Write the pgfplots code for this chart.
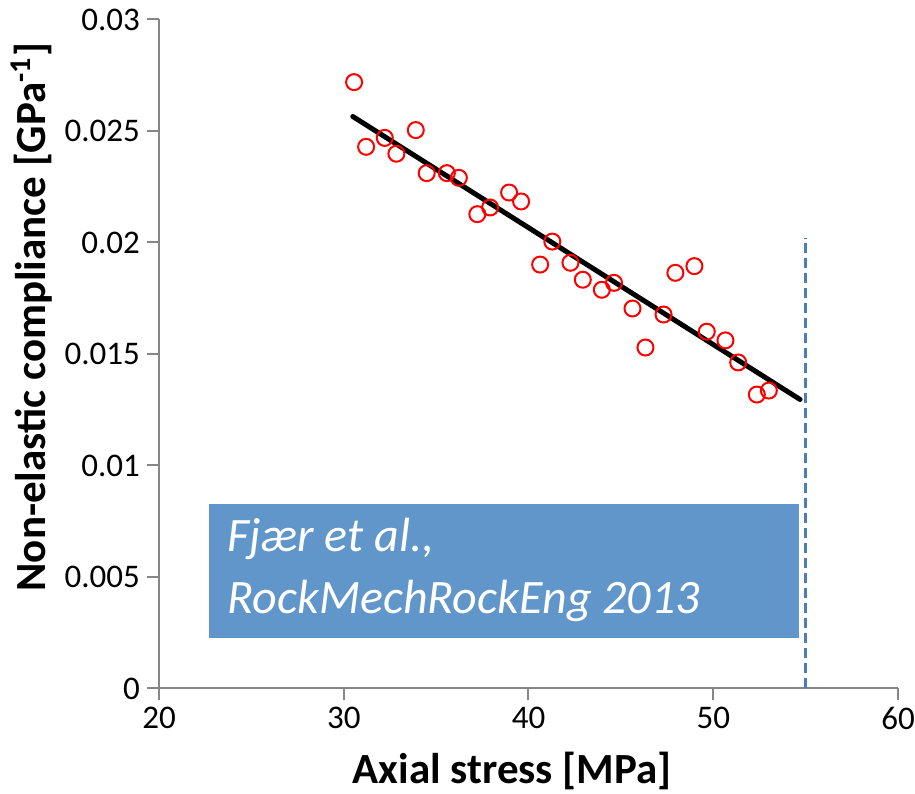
\documentclass[border=0pt]{standalone}
\usepackage{pgfplots}
\pgfplotsset{compat=1.18}
\usepackage{fontspec}
\setmainfont{Carlito}

\definecolor{axgray}{HTML}{868686}
\definecolor{boxblue}{HTML}{6196CA}
\definecolor{dashblue}{HTML}{4A7EBB}

\begin{document}
\begin{tikzpicture}
\begin{axis}[
    name=ax,
    scale only axis,
    width=369.5pt, height=334.5pt,
    xmin=20, xmax=60,
    ymin=0, ymax=0.03,
    xtick={20,30,40,50,60},
    ytick={0,0.005,0.01,0.015,0.02,0.025,0.03},
    axis lines*=left,
    axis line style={axgray, line width=1pt},
    tick style={axgray, line width=1pt},
    tick align=outside,
    major tick length=6pt,
    scaled y ticks=false,
    /pgf/number format/assume math mode=true,
    yticklabel style={/pgf/number format/fixed, /pgf/number format/precision=3},
    ticklabel style={font=\fontsize{16.5}{19}\selectfont},
    xlabel={\textbf{Axial stress [MPa]}},
    ylabel={\textbf{Non-elastic compliance [GPa\textsuperscript{-1}]}},
    label style={font=\fontsize{21.5}{24}\selectfont},
    xlabel style={at={(axis description cs:0.478,-0.1226)}, anchor=center},
    ylabel style={at={(axis description cs:-0.172,0.555)}, anchor=center},
    clip=false,
]

% source box
\fill[boxblue] (axis cs:22.69,0.00228) rectangle (axis cs:54.65,0.00828);
\node[anchor=north west, align=left, text=white, inner sep=0pt,
      font=\fontsize{24}{31}\itshape]
    at (axis cs:23.7,0.00765) {Fjær et al.,\\RockMechRockEng 2013};

% vertical dashed limit
\addplot[dashblue, line width=1.8pt, dash pattern=on 5pt off 2.5pt]
    coordinates {(55,0) (55,0.0202)};

% measured points
\addplot[only marks, mark=o, mark size=4pt, red,
         mark options={line width=1pt}] coordinates {
    (30.56,0.02719) (31.21,0.02429) (32.22,0.02469) (32.85,0.02398)
    (33.90,0.02504) (34.49,0.02311) (35.58,0.02311) (36.23,0.02290)
    (37.23,0.02127) (37.92,0.02157) (38.95,0.02224) (39.60,0.02184)
    (41.29,0.02004) (40.63,0.01901) (42.27,0.01909) (42.94,0.01833)
    (43.97,0.01788) (44.63,0.01819) (45.63,0.01704) (46.33,0.01529)
    (47.31,0.01677) (47.95,0.01864) (48.98,0.01894) (49.65,0.01600)
    (50.66,0.01561) (51.35,0.01462) (52.36,0.01318) (53.01,0.01336)
};

% linear fit
\addplot[black, line width=2.5pt, line cap=round]
    coordinates {(30.49,0.02565) (54.70,0.01296)};

\end{axis}
\pgfresetboundingbox
\path ([xshift=-79.5pt,yshift=-52.5pt]ax.south west)
      rectangle ([xshift=8.5pt,yshift=9.75pt]ax.north east);
\end{tikzpicture}
\end{document}
